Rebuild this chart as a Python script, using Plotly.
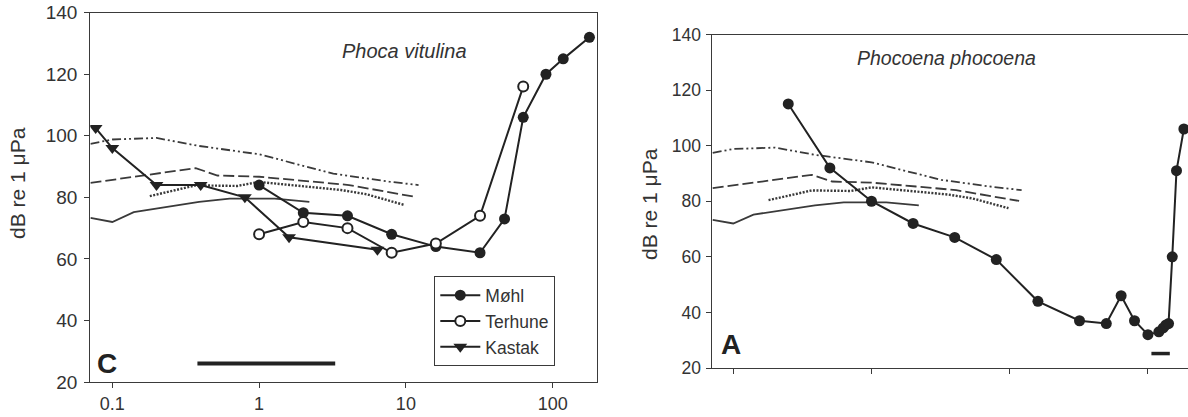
import plotly.graph_objects as go

# ---------------- data ----------------
# background reference curves (Hz, dB re 1 µPa) - shared by both panels
ref_dashdot_x = [0.071, 0.1, 0.2, 0.39, 1.0, 2.0, 3.2, 7.7, 12.2]
ref_dashdot_y = [97.4, 98.8, 99.3, 96.7, 94.0, 90.2, 87.7, 85.1, 84.0]
ref_dashed_x = [0.071, 0.19, 0.37, 0.52, 1.0, 2.1, 4.1, 11.7]
ref_dashed_y = [84.7, 87.5, 89.5, 87.1, 86.7, 85.3, 84.0, 80.1]
ref_dotted_x = [0.18, 0.37, 0.71, 1.0, 2.1, 3.6, 5.4, 9.8]
ref_dotted_y = [80.4, 83.9, 83.7, 85.0, 83.5, 82.4, 81.0, 77.5]
ref_solid_x = [0.071, 0.1, 0.14, 0.39, 0.63, 1.28, 2.2]
ref_solid_y = [73.3, 72.0, 75.2, 78.5, 79.6, 79.6, 78.5]

# Phoca vitulina audiograms
mohl_x = [1, 2, 4, 8, 16, 32, 47, 63, 90, 118, 178]
mohl_y = [84, 75, 74, 68, 64, 62, 73, 106, 120, 125, 132]
terhune_x = [1, 2, 4, 8, 16, 32, 63]
terhune_y = [68, 72, 70, 62, 65, 74, 116]
kastak_x = [0.077, 0.1, 0.2, 0.4, 0.8, 1.6, 6.4]
kastak_y = [102.5, 96, 84, 84, 80, 67, 63]

# Phocoena phocoena audiogram
phoc_x = [0.25, 0.5, 1, 2, 4, 8, 16, 32, 50, 64, 80, 100, 120, 129, 135, 141, 150, 161, 182]
phoc_y = [115, 92, 80, 72, 67, 59, 44, 37, 36, 46, 37, 32, 33, 34.4, 35.5, 36, 60, 91, 106]

# scale bars
bar_c_x = [0.38, 3.3]
bar_c_y = [26, 26]
bar_a_x = [106, 144]
bar_a_y = [25.2, 25.2]

tick_vals = [0.1, 1, 10, 100]
tick_text = ["0.1", "1", "10", "100"]
y_ticks = [20, 40, 60, 80, 100, 120, 140]

# ---------------- figure ----------------
W, H = 1188, 417
INK = "#222222"
AX = "#3a3a3a"
FONT = "Liberation Sans, Arial, Helvetica, sans-serif"

fig = go.Figure()

ref_styles = [
    (ref_dashdot_x, ref_dashdot_y, "9px,3px,2px,3px,2px,3px", 1.8),
    (ref_dashed_x, ref_dashed_y, "11px,4px", 1.8),
    (ref_dotted_x, ref_dotted_y, "2px,1.5px", 2.4),
    (ref_solid_x, ref_solid_y, "solid", 1.8),
]
for xa, ya in (("x", "y"), ("x2", "y2")):
    for rx, ry, dash, w in ref_styles:
        fig.add_trace(go.Scatter(x=rx, y=ry, mode="lines", xaxis=xa, yaxis=ya,
                                 line=dict(color=AX, width=w, dash=dash),
                                 showlegend=False, hoverinfo="skip"))

# scale bars
fig.add_trace(go.Scatter(x=bar_c_x, y=bar_c_y, mode="lines", xaxis="x", yaxis="y",
                         line=dict(color=INK, width=4), showlegend=False))
fig.add_trace(go.Scatter(x=bar_a_x, y=bar_a_y, mode="lines", xaxis="x2", yaxis="y2",
                         line=dict(color=INK, width=3.5), showlegend=False))

fig.add_trace(go.Scatter(x=mohl_x, y=mohl_y, name="Møhl", mode="lines+markers",
                         xaxis="x", yaxis="y",
                         line=dict(color=INK, width=2),
                         marker=dict(symbol="circle", size=11, color=INK)))
fig.add_trace(go.Scatter(x=terhune_x, y=terhune_y, name="Terhune", mode="lines+markers",
                         xaxis="x", yaxis="y",
                         line=dict(color=INK, width=2),
                         marker=dict(symbol="circle", size=10, color="white",
                                     line=dict(color=INK, width=2))))
fig.add_trace(go.Scatter(x=kastak_x, y=kastak_y, name="Kastak", mode="lines+markers",
                         xaxis="x", yaxis="y",
                         line=dict(color=INK, width=2),
                         marker=dict(symbol="triangle-down", size=12, color=INK)))
fig.add_trace(go.Scatter(x=phoc_x, y=phoc_y, mode="lines+markers",
                         xaxis="x2", yaxis="y2", showlegend=False,
                         line=dict(color=INK, width=2),
                         marker=dict(symbol="circle", size=11, color=INK)))

def px(x):
    return x / W

def py(y):
    return 1 - y / H

axis_common = dict(showgrid=False, zeroline=False, linecolor=AX, linewidth=1.3,
                   ticks="outside", tickcolor=AX, ticklen=5, tickwidth=1.3,
                   color="#333333", automargin=False)

def note(text, x, y, size, angle=0, color="#333333"):
    return dict(text=text, x=px(x), y=py(y), xref="paper", yref="paper",
                xanchor="center", yanchor="middle", showarrow=False,
                textangle=angle, font=dict(size=size, color=color))

fig.update_layout(
    width=W, height=H,
    margin=dict(l=0, r=0, t=0, b=0, pad=0),
    paper_bgcolor="white", plot_bgcolor="white",
    font=dict(family=FONT, color="#333333"),
    xaxis=dict(type="log", range=[-1.15, 2.302], domain=[px(90.3), px(597)],
               tickvals=tick_vals, ticktext=tick_text, mirror=True,
               tickfont=dict(size=18), anchor="y", **axis_common),
    yaxis=dict(range=[20, 140], domain=[py(382), py(12.7)], tickvals=y_ticks,
               mirror=True, tickfont=dict(size=19), anchor="x",
               ticklabelstandoff=3, **axis_common),
    xaxis2=dict(type="log", range=[-1.156, 2.29], domain=[px(711.7), 1.0],
                tickvals=tick_vals, showticklabels=False, mirror=True,
                anchor="y2", **axis_common),
    yaxis2=dict(range=[20, 140], domain=[py(368), py(34.5)], tickvals=y_ticks,
                mirror=True, tickfont=dict(size=17.5), anchor="x2",
                ticklabelstandoff=1, **axis_common),
    legend=dict(x=px(434), y=py(276), xanchor="left", yanchor="top",
                bgcolor="white", bordercolor=AX, borderwidth=1.3,
                font=dict(size=17.5, color="#333333"), tracegroupgap=0,
                itemwidth=40),
    annotations=[
        note("<i>Phoca vitulina</i>", 405, 50.5, 20),
        note("<i>Phocoena phocoena</i>", 946.7, 57.5, 19.5),
        note("<b>C</b>", 107, 363, 28, color=INK),
        note("<b>A</b>", 730.5, 344, 28, color=INK),
        note("dB re 1 μPa", 18, 183, 21, angle=-90),
        note("dB re 1 μPa", 649, 204, 21, angle=-90),
    ],
)

fig.write_html(
    "out.html",
    config={"displayModeBar": False},
    post_script="document.body.style.margin='0';document.body.style.padding='0';"
                "document.body.style.overflow='hidden';",
)
